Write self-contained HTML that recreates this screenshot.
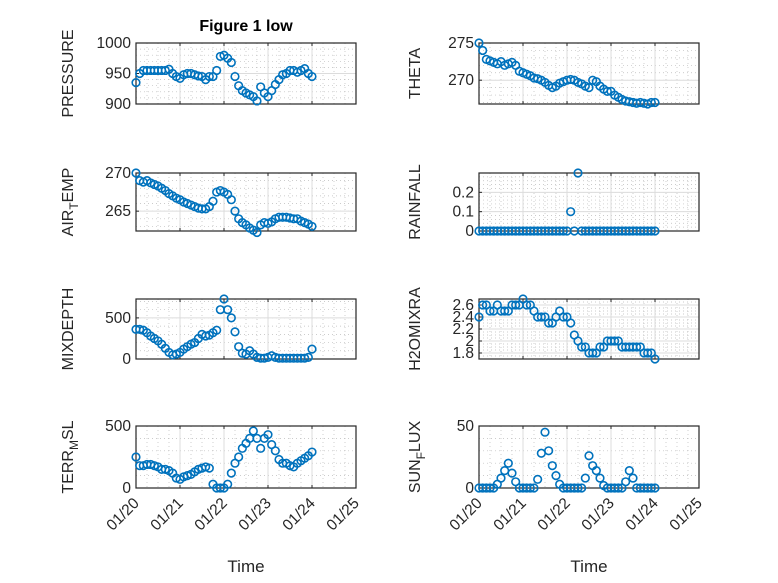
<!DOCTYPE html>
<html><head><meta charset="utf-8"><style>
body{margin:0;background:#fff;}
svg{display:block;font-family:"Liberation Sans",sans-serif;}
</style></head><body>
<svg id="fig" width="778" height="583" xmlns="http://www.w3.org/2000/svg">
<rect width="778" height="583" fill="#fff"/>
<text x="246" y="31" text-anchor="middle" font-size="16" font-weight="bold" fill="#000">Figure 1 low</text>
</svg>
<script>
const xTickLabels=["01/20","01/21","01/22","01/23","01/24","01/25"];
const pressure=[935,950,955,955,955,955,955,955,955,957,950,945,942,948,950,950,948,946,945,940,945,945,955,978,980,975,968,945,930,922,918,915,912,905,928,918,912,922,932,940,948,950,955,955,952,955,958,950,945];
const airTemp=[270,269,268.8,269,268.7,268.5,268.3,268,267.7,267.3,267,266.7,266.5,266.2,266,265.8,265.6,265.4,265.3,265.3,265.6,266.3,267.5,267.7,267.5,267.2,266.5,265,264,263.5,263.2,262.8,262.5,262.2,263.2,263.5,263.4,263.6,264,264.2,264.2,264.2,264.1,264,264,263.7,263.5,263.3,263];
const mixDepth=[360,360,350,320,280,250,220,180,130,80,50,60,80,120,150,180,200,250,300,280,290,320,350,600,730,600,500,330,150,70,60,100,60,20,10,10,20,40,20,10,10,10,10,10,10,10,10,20,120];
const terrMsl=[250,180,180,190,190,180,170,150,150,140,120,80,70,90,100,110,130,150,160,170,160,30,0,0,0,30,120,200,250,320,360,400,460,400,320,400,430,350,300,230,200,200,180,170,200,220,240,260,290];
const theta=[275,274,272.8,272.6,272.4,272.2,272.5,272,272.2,272.4,272,271.2,271,270.8,270.6,270.3,270.2,270,269.7,269.3,269,269.2,269.6,269.8,270,270.1,270,269.7,269.5,269.2,269,270,269.8,269.2,268.8,268.5,268.5,268,267.7,267.4,267.2,267.1,267,266.9,267,266.9,266.8,267,267];
const rainfall=[0,0,0,0,0,0,0,0,0,0,0,0,0,0,0,0,0,0,0,0,0,0,0,0,0,0.1,0,0.3,0,0,0,0,0,0,0,0,0,0,0,0,0,0,0,0,0,0,0,0,0];
const h2o=[2.4,2.6,2.6,2.5,2.5,2.6,2.5,2.5,2.5,2.6,2.6,2.6,2.7,2.6,2.6,2.5,2.4,2.4,2.4,2.3,2.3,2.4,2.5,2.4,2.4,2.3,2.1,2.0,1.9,1.9,1.8,1.8,1.8,1.9,1.9,2.0,2.0,2.0,2.0,1.9,1.9,1.9,1.9,1.9,1.9,1.8,1.8,1.8,1.7];
const sunFlux=[0,0,0,0,0,3,8,14,20,12,5,0,0,0,0,0,7,28,45,30,18,10,3,0,0,0,0,0,0,8,26,18,14,8,2,0,0,0,0,0,5,14,8,0,0,0,0,0,0];

const NS="http://www.w3.org/2000/svg";
const svg=document.getElementById('fig');
function mk(tag,attrs,parent){const e=document.createElementNS(NS,tag);for(const k in attrs)e.setAttribute(k,attrs[k]);(parent||svg).appendChild(e);return e;}
const cols=[136,479], W=220;
const rows=[[43,104],[173,231],[299,359],[426,488]];
const panels=[
 {name:'pressure',data:pressure,c:0,r:0,lo:900,hi:1000,ticks:[900,950,1000],minor:10,label:['PRESSURE']},
 {name:'air-temp',data:airTemp,c:0,r:1,lo:262.4,hi:270,ticks:[265,270],minor:1,label:['AIR','T','EMP']},
 {name:'mixdepth',data:mixDepth,c:0,r:2,lo:0,hi:730,ticks:[0,500],minor:100,label:['MIXDEPTH']},
 {name:'terr-msl',data:terrMsl,c:0,r:3,lo:0,hi:500,ticks:[0,500],minor:100,label:['TERR','M','SL']},
 {name:'theta',data:theta,c:1,r:0,lo:266.8,hi:275,ticks:[270,275],minor:1,label:['THETA']},
 {name:'rainfall',data:rainfall,c:1,r:1,lo:0,hi:0.3,ticks:[0,0.1,0.2],minor:0.02,label:['RAINFALL']},
 {name:'h2omixra',data:h2o,c:1,r:2,lo:1.7,hi:2.7,ticks:[1.8,2,2.2,2.4,2.6],minor:0.05,label:['H2OMIXRA']},
 {name:'sun-flux',data:sunFlux,c:1,r:3,lo:0,hi:50,ticks:[0,50],minor:10,label:['SUN','F','LUX']}
];
panels.forEach(p=>{
 const x0=cols[p.c], y0=rows[p.r][0], y1=rows[p.r][1];
 const xs=d=>x0+d/5*W;
 const ys=v=>y1-(v-p.lo)/(p.hi-p.lo)*(y1-y0);
 const g=mk('g',{});
 
 
 for(let d=0;d<5;d+=0.25){if(Math.abs(d-Math.round(d))<1e-6)continue;mk('line',{x1:xs(d),x2:xs(d),y1:y0,y2:y1,stroke:'#bbb','stroke-width':0.7,'stroke-dasharray':'1,3'},g);}
 for(let v=Math.ceil(p.lo/p.minor)*p.minor;v<p.hi;v+=p.minor){const y=ys(v);mk('line',{x1:x0,x2:x0+W,y1:y,y2:y,stroke:'#bbb','stroke-width':0.7,'stroke-dasharray':'1,3'},g);}
 for(let d=1;d<5;d++)mk('line',{x1:xs(d),x2:xs(d),y1:y0,y2:y1,stroke:'#dcdcdc','stroke-width':1},g);
 p.ticks.forEach(v=>{const y=ys(v);mk('line',{x1:x0,x2:x0+W,y1:y,y2:y,stroke:'#dcdcdc','stroke-width':1},g);
  const t=mk('text',{x:x0-5,y:y+5,'text-anchor':'end','font-size':15.5,fill:'#262626'},g);t.textContent=String(v);
  
  
  mk('line',{x1:x0,x2:x0+3,y1:y,y2:y,stroke:'#262626'},g);});
 for(let d=1;d<5;d++){mk('line',{x1:xs(d),x2:xs(d),y1:y0,y2:y0+3,stroke:'#262626'},g);mk('line',{x1:xs(d),x2:xs(d),y1:y1,y2:y1-3,stroke:'#262626'},g);}
 mk('rect',{x:x0,y:y0,width:W,height:y1-y0,fill:'none',stroke:'#262626','stroke-width':1.2},g);
 p.data.forEach((v,i)=>{const c=mk('circle',{cx:xs(i/12),cy:ys(v),r:3.8,fill:'none',stroke:'#0072BD','stroke-width':1.6},g);
  
  });
 const lx=p.c===0?73:420, ly=(y0+y1)/2;
 const t=mk('text',{x:lx,y:ly,transform:`rotate(-90 ${lx} ${ly})`,'text-anchor':'middle','font-size':16,fill:'#262626'},g);
 
 
 if(p.label.length===1)t.textContent=p.label[0];
 else{const a=mk('tspan',{},t);a.textContent=p.label[0];const b=mk('tspan',{dy:5,'font-size':12},t);b.textContent=p.label[1];const c=mk('tspan',{dy:-5},t);c.textContent=p.label[2];}
 if(p.r===3){xTickLabels.forEach((s,i)=>{const x=xs(i),y=y1+12;const tt=mk('text',{x:x+4,y:y+4,transform:`rotate(-45 ${x+4} ${y+4})`,'text-anchor':'end','font-size':15.5,fill:'#262626'},g);tt.textContent=s;
   
   });
  const xl=mk('text',{x:x0+W/2,y:572,'text-anchor':'middle','font-size':17,fill:'#262626'},g);xl.textContent='Time';
  
  }
});
</script>
</body></html>
